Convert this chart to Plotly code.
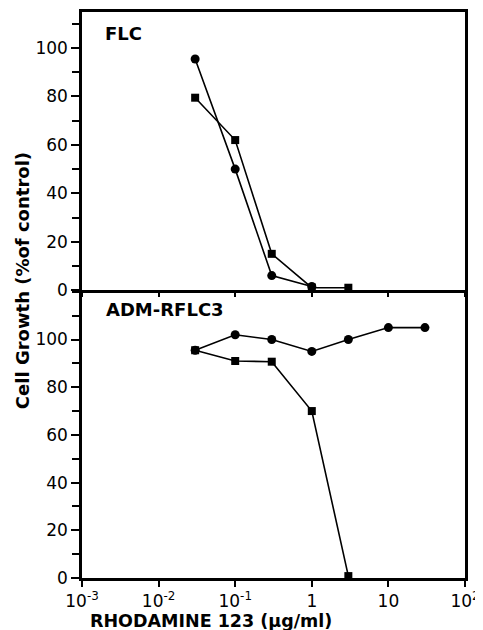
import plotly.graph_objects as go
from plotly.subplots import make_subplots

# Data
conc_flc_circle = [0.03, 0.1, 0.3, 1]
flc_circle = [95.5, 50, 6, 1.5]
conc_flc_square = [0.03, 0.1, 0.3, 1, 3]
flc_square = [79.5, 62, 15, 1, 1]

conc_adm_circle = [0.03, 0.1, 0.3, 1, 3, 10, 30]
adm_circle = [95.5, 102, 100, 95, 100, 105, 105]
conc_adm_square = [0.03, 0.1, 0.3, 1, 3]
adm_square = [95.5, 91, 90.7, 70, 0.8]

x_tickvals = [0.001, 0.01, 0.1, 1, 10, 100]
x_ticktext = ["10<sup>-3</sup>", "10<sup>-2</sup>", "10<sup>-1</sup>", "1", "10", "10<sup>2</sup>"]
y_tickvals = [0, 20, 40, 60, 80, 100]

OFF = 8  # page body margin
W, H = 483 - OFF, 630 - OFF
L, R, T, B = 82 - OFF, 465 - OFF, 12 - OFF, 577.7 - OFF
mid = 290 - OFF
plot_h = B - T
split = (B - mid) / plot_h

fig = make_subplots(rows=2, cols=1, shared_xaxes=False, vertical_spacing=0)

line_style = dict(color="black", width=1.6)

def add(x, y, symbol, row):
    fig.add_trace(go.Scatter(x=x, y=y, mode="lines+markers",
                             line=line_style,
                             marker=dict(symbol=symbol, size=9 if symbol == "circle" else 8, color="black"),
                             showlegend=False, cliponaxis=False), row=row, col=1)

add(conc_flc_circle, flc_circle, "circle", 1)
add(conc_flc_square, flc_square, "square", 1)
add(conc_adm_circle, adm_circle, "circle", 2)
add(conc_adm_square, adm_square, "square", 2)

font_fam = "DejaVu Sans, Verdana, sans-serif"
tickfont = dict(family=font_fam, size=17, color="black")

xcommon = dict(type="log", range=[-3, 2], tickvals=x_tickvals, showline=True,
               linecolor="black", showgrid=False, automargin=False,
               zeroline=False, ticks="outside", tickwidth=1.5, tickcolor="black")
ycommon = dict(showline=True, linecolor="black", linewidth=2.5, mirror=True, showgrid=False,
               zeroline=False, ticks="outside", ticklen=8, tickwidth=1.5, tickcolor="black",
               tickvals=y_tickvals, tickfont=tickfont, automargin=False,
               minor=dict(dtick=10, tick0=0, ticks="outside", ticklen=7, tickwidth=1.5, tickcolor="black"))

fig.update_layout(
    width=W, height=H,
    margin=dict(l=L, r=W - R, t=T, b=H - B),
    plot_bgcolor="white", paper_bgcolor="white",
    xaxis=dict(**xcommon, domain=[0, 1], showticklabels=False, anchor="y",
               mirror=True, linewidth=2.5, ticklen=4),
    xaxis2=dict(**xcommon, domain=[0, 1], ticktext=x_ticktext, tickfont=tickfont, anchor="y2",
                mirror=False, linewidth=2.5, ticklen=6),
    yaxis=dict(**ycommon, domain=[split, 1], range=[0, 114.9], anchor="x"),
    yaxis2=dict(**ycommon, domain=[0, split], range=[0, 120.7], anchor="x2"),
)

def px_to_paper(px, py):
    return (px - OFF - L) / (R - L), (B - (py - OFF)) / plot_h

ann = []
x, y = px_to_paper(103, 33)
ann.append(dict(x=x, y=y, xref="paper", yref="paper", text="<b>FLC</b>", showarrow=False,
                xanchor="left", yanchor="middle", font=dict(family=font_fam, size=18, color="black")))
x, y = px_to_paper(104, 309)
ann.append(dict(x=x, y=y, xref="paper", yref="paper", text="<b>ADM-RFLC3</b>", showarrow=False,
                xanchor="left", yanchor="middle", font=dict(family=font_fam, size=18, color="black")))
x, y = px_to_paper(22, 281)
ann.append(dict(x=x, y=y, xref="paper", yref="paper", text="<b>Cell Growth (%of control)</b>", showarrow=False,
                textangle=-90, xanchor="center", yanchor="middle", font=dict(family=font_fam, size=18, color="black")))
x, y = px_to_paper(211, 621)
ann.append(dict(x=x, y=y, xref="paper", yref="paper", text="<b>RHODAMINE 123 (μg/ml)</b>", showarrow=False,
                xanchor="center", yanchor="middle", font=dict(family=font_fam, size=17.5, color="black")))
fig.update_layout(annotations=ann)

fig.write_html("out.html")
